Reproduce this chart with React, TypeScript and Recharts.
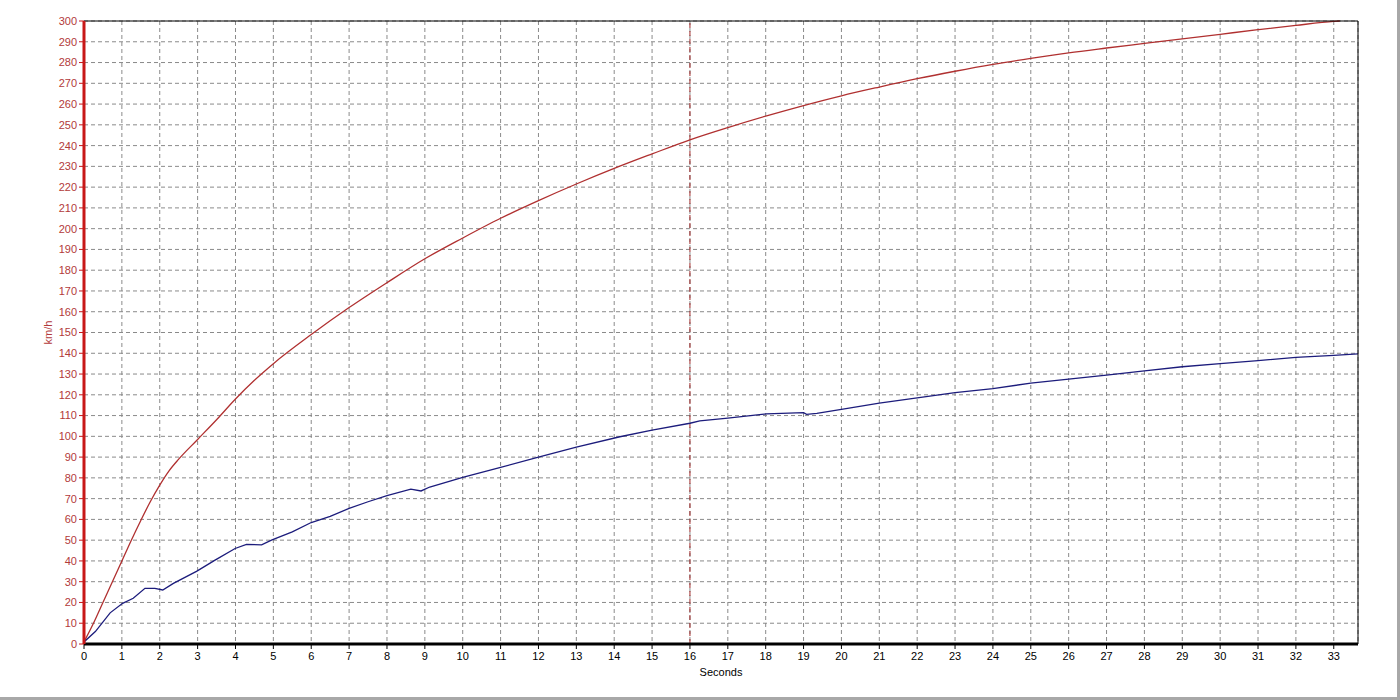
import { LineChart, Line, XAxis, YAxis, CartesianGrid, ReferenceLine, Label } from 'recharts';

// red run (upper curve)
const redTime = [0, 0.25, 0.5, 0.75, 1, 1.25, 1.5, 1.75, 2, 2.25, 2.5, 3, 3.5, 4, 4.5, 5, 6, 7, 8, 9, 10, 11, 12, 13, 14, 15, 16, 17, 18, 19, 20, 21, 22, 23, 24, 25, 26, 27, 28, 29, 30, 31, 32, 33, 33.16];
const redKmh = [1, 10, 20, 30, 40, 50, 59.5, 68.5, 76.5, 83.5, 89, 98.5, 108, 118, 127, 135, 149, 162, 174, 185.5, 195.5, 205, 213.5, 221.5, 229, 236, 242.8, 248.7, 254.2, 259.3, 264, 268.2, 272.2, 275.8, 279.1, 282, 284.7, 287, 289.2, 291.4, 293.6, 295.8, 297.9, 299.8, 300];

// blue run (lower curve)
const blueTime = [0, 0.3, 0.69, 1.02, 1.3, 1.61, 1.87, 2.08, 2.36, 2.97, 3.46, 3.99, 4.29, 4.69, 4.95, 5.5, 6, 6.5, 7, 7.5, 8, 8.63, 8.9, 9.13, 10, 11, 12, 13, 14.15, 15, 16, 16.26, 17, 18.02, 19, 19.08, 19.35, 20, 21, 22, 23, 24, 25, 26, 27, 28, 29, 30, 31, 32, 33, 33.64];
const blueKmh = [1, 6, 15, 19.6, 22, 26.8, 26.8, 26, 29.2, 35, 40.4, 46, 48, 47.7, 50, 54, 58.5, 61.5, 65.3, 68.5, 71.5, 74.6, 73.7, 75.6, 80.2, 85, 90, 94.8, 99.8, 103, 106.3, 107.4, 108.8, 110.8, 111.4, 110.6, 111.1, 113, 116, 118.5, 121, 123, 125.6, 127.5, 129.5, 131.5, 133.5, 135, 136.5, 138, 139, 139.7];

const xTicks = [0, 1, 2, 3, 4, 5, 6, 7, 8, 9, 10, 11, 12, 13, 14, 15, 16, 17, 18, 19, 20, 21, 22, 23, 24, 25, 26, 27, 28, 29, 30, 31, 32, 33];
const yTicks = [0, 10, 20, 30, 40, 50, 60, 70, 80, 90, 100, 110, 120, 130, 140, 150, 160, 170, 180, 190, 200, 210, 220, 230, 240, 250, 260, 270, 280, 290, 300];
const markerTime = 16;

const X_MAX = 33.64;
const Y_MAX = 300;

const xMinor = Array.from({ length: 169 }, (_, i) => +(i * 0.2).toFixed(1)).filter((v) => v <= X_MAX);
const yMinor = Array.from({ length: 151 }, (_, i) => i * 2);

const redData = redTime.map((t, i) => ({ t, kmh: redKmh[i] }));
const blueData = blueTime.map((t, i) => ({ t, kmh: blueKmh[i] }));

const RED_AXIS = '#c81818';
const RED_TEXT = '#b23a3a';
const FONT = '"Liberation Sans", Arial, sans-serif';

export default function App() {
  return (
    <div style={{ position: 'absolute', left: 0, top: 0, width: 1400, height: 700, background: '#fff', fontFamily: FONT }}>
      <LineChart width={1400} height={700} margin={{ top: 20, right: 41, bottom: 16, left: 0 }}>
        <CartesianGrid stroke="#8a8a8a" strokeDasharray="4 3" />
        <XAxis xAxisId="top" orientation="top" type="number" domain={[0, X_MAX]} height={1} tick={false} tickLine={false} axisLine={{ stroke: '#000' }} />
        <XAxis
          dataKey="t"
          type="number"
          domain={[0, X_MAX]}
          ticks={xTicks}
          interval={0}
          allowDataOverflow
          height={40}
          tickSize={5}
          tickMargin={3}
          tick={{ fill: '#000', fontSize: 11, fontFamily: FONT }}
          tickLine={{ stroke: '#000' }}
          axisLine={false}
        >
          <Label value="Seconds" position="insideBottom" offset={8} fill="#000" fontSize={11} fontFamily={FONT} />
        </XAxis>
        {/* minor ticks: mirrored so they take no space, negative size so they point outward */}
        <XAxis
          xAxisId="minor"
          type="number"
          domain={[0, X_MAX]}
          ticks={xMinor}
          interval={0}
          mirror
          height={1}
          tick={false}
          tickSize={-3}
          tickLine={{ stroke: '#777' }}
          axisLine={{ stroke: '#000', strokeWidth: 3 }}
        />
        <YAxis yAxisId="right" orientation="right" type="number" domain={[0, Y_MAX]} width={1} tick={false} tickLine={false} axisLine={{ stroke: '#000' }} />
        <YAxis
          type="number"
          domain={[0, Y_MAX]}
          ticks={yTicks}
          interval={0}
          width={84}
          tickSize={5}
          tickMargin={2}
          tick={{ fill: RED_TEXT, fontSize: 11, fontFamily: FONT }}
          tickLine={{ stroke: RED_AXIS }}
          axisLine={false}
        >
          <Label value="km/h" angle={-90} position="insideLeft" offset={48} fill={RED_TEXT} fontSize={11} fontFamily={FONT} style={{ textAnchor: 'middle' }} />
        </YAxis>
        <YAxis
          yAxisId="minor"
          type="number"
          domain={[0, Y_MAX]}
          ticks={yMinor}
          interval={0}
          mirror
          width={1}
          tick={false}
          tickSize={-3}
          tickLine={{ stroke: RED_AXIS }}
          axisLine={{ stroke: RED_AXIS, strokeWidth: 3 }}
        />
        <ReferenceLine x={markerTime} stroke="#a02828" strokeDasharray="5 3" />
        <Line data={redData} dataKey="kmh" type="monotone" stroke="#b03030" strokeWidth={1.3} dot={false} isAnimationActive={false} />
        <Line data={blueData} dataKey="kmh" type="linear" stroke="#1c1c7c" strokeWidth={1.3} dot={false} isAnimationActive={false} />
      </LineChart>
      <div
        style={{
          position: 'absolute',
          left: 0,
          top: 0,
          width: 1400,
          height: 700,
          boxSizing: 'border-box',
          borderRight: '3px solid #a8a8a8',
          borderBottom: '3px solid #a8a8a8',
          pointerEvents: 'none',
        }}
      />
    </div>
  );
}
